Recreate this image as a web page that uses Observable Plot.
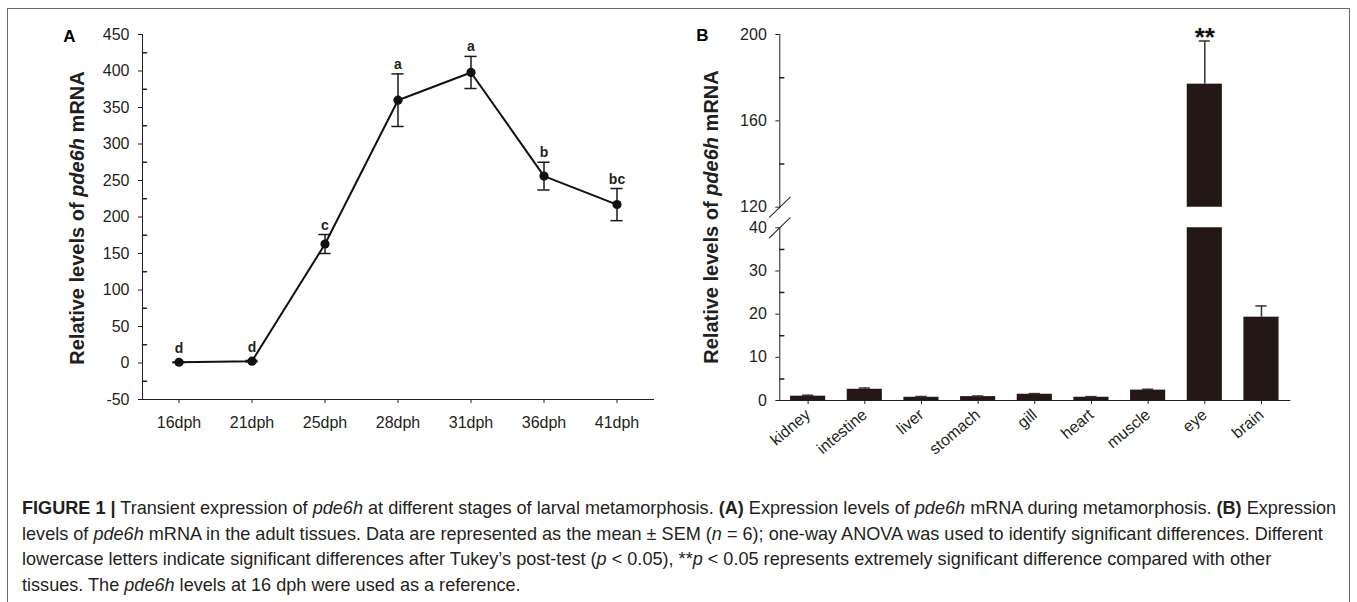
<!DOCTYPE html>
<html><head><meta charset="utf-8">
<script src="https://cdn.jsdelivr.net/npm/d3@7"></script>
<script src="https://cdn.jsdelivr.net/npm/@observablehq/plot@0.6"></script>
<style>
html,body{margin:0;padding:0;background:#fff;}
body{width:1357px;height:602px;overflow:hidden;position:relative;font-family:"Liberation Sans",Arial,sans-serif;color:#231f20;}
#frame{position:absolute;left:7px;top:8px;width:1343px;height:620px;border:1px solid #6b6b6b;box-sizing:border-box;}
.panel{position:absolute;top:0;}
.panel svg{overflow:visible;}
#caption{position:absolute;left:22px;top:496px;font-size:18.1px;line-height:25.5px;white-space:nowrap;color:#231f20;}
</style></head><body>
<div id="frame"></div>
<div id="pa" class="panel" style="left:0px"></div>
<div id="pbHigh" class="panel" style="left:680px"></div>
<div id="pbLow" class="panel" style="left:680px"></div>
<div id="caption"><b>FIGURE 1 |</b> Transient expression of <i>pde6h</i> at different stages of larval metamorphosis. <b>(A)</b> Expression levels of <i>pde6h</i> mRNA during metamorphosis. <b>(B)</b> Expression<br>levels of <i>pde6h</i> mRNA in the adult tissues. Data are represented as the mean ± SEM (<i>n</i> = 6); one-way ANOVA was used to identify significant differences. Different<br>lowercase letters indicate significant differences after Tukey’s post-test (<i>p</i> &lt; 0.05), **<i>p</i> &lt; 0.05 represents extremely significant difference compared with other<br>tissues. The <i>pde6h</i> levels at 16 dph were used as a reference.</div>
<script>
// ---- Panel A data ----
const stages = ["16dph", "21dph", "25dph", "28dph", "31dph", "36dph", "41dph"];
const stageMean = [1, 2.5, 163, 360, 398, 256, 217];
const stageSem = [0.5, 1, 13, 36, 22, 19, 22];
const stageLetters = ["d", "d", "c", "a", "a", "b", "bc"];
const yTicksA = [-50, 0, 50, 100, 150, 200, 250, 300, 350, 400, 450];
const yMinorA = [-25, 25, 75, 125, 175, 225, 275, 325, 375, 425];

// ---- Panel B data ----
const tissues = ["kidney", "intestine", "liver", "stomach", "gill", "heart", "muscle", "eye", "brain"];
const tissueMean = [1.0, 2.6, 0.75, 0.9, 1.45, 0.75, 2.4, 177, 19.3];
const tissueSem = [0.2, 0.3, 0.15, 0.15, 0.15, 0.15, 0.2, 20, 2.6];
const tissueSig = ["", "", "", "", "", "", "", "**", ""];
const yTicksBLow = [0, 10, 20, 30, 40];
const yMinorBLow = [5, 15, 25, 35];
const yTicksBHigh = [120, 160, 200];
const yMinorBHigh = [140, 180];
const breakLow = 40, breakHigh = 120;

const ink = "#231f20";
const barFill = "#231815";
const font = "'Liberation Sans', Arial, sans-serif";
const dotR = 4.6;

const dataA = stages.map((s, i) => ({stage: s, mean: stageMean[i], sem: stageSem[i], letter: stageLetters[i]}));
const dataB = tissues.map((t, i) => ({tissue: t, mean: tissueMean[i], sem: tissueSem[i], sig: tissueSig[i]}));

const baseStyle = {fontFamily: font, fontSize: "16px", color: ink, background: "transparent", overflow: "visible"};
const fmt = d => String(d);

function addTitle(svg, x, y) {
  const t = d3.select(svg).append("text")
    .attr("transform", `translate(${x},${y}) rotate(-90)`)
    .attr("text-anchor", "middle").attr("font-size", 20).attr("font-weight", "bold")
    .attr("font-family", font).attr("fill", ink);
  t.append("tspan").text("Relative levels of ");
  t.append("tspan").attr("font-style", "italic").text("pde6h");
  t.append("tspan").text(" mRNA");
}
function addLetter(svg, x, y, s) {
  d3.select(svg).append("text").attr("x", x).attr("y", y).attr("font-size", 17)
    .attr("font-weight", "bold").attr("font-family", font).attr("fill", "#000").text(s);
}

// ---- Panel A ----
const yScaleA = 365 / 500; // px per unit, used only to keep letters clear of the dot
const plotA = Plot.plot({
  width: 680, height: 440,
  marginLeft: 142, marginRight: 27, marginTop: 34, marginBottom: 41,
  style: baseStyle,
  x: {type: "band", domain: stages, paddingInner: 0, paddingOuter: 0, round: false, label: null, tickSize: 4, tickPadding: 13, line: true},
  y: {domain: [-50, 450], ticks: yTicksA, tickFormat: fmt, tickSize: 4, tickPadding: 9, label: null, line: true},
  marks: [
    Plot.vector(yMinorA, {y: d => d, frameAnchor: "left", rotate: 90, length: 4, anchor: "start", shape: "arrow", r: 0.01, stroke: ink}),
    Plot.ruleX(dataA, {x: "stage", y1: d => d.mean - d.sem, y2: d => d.mean + d.sem, stroke: "#1a1a1a", strokeWidth: 1.5}),
    Plot.tickY(dataA, {x: "stage", y: d => d.mean + d.sem, insetLeft: 30.4, insetRight: 30.4, stroke: "#1a1a1a", strokeWidth: 1.5}),
    Plot.tickY(dataA, {x: "stage", y: d => d.mean - d.sem, insetLeft: 30.4, insetRight: 30.4, stroke: "#1a1a1a", strokeWidth: 1.5}),
    Plot.line(dataA, {x: "stage", y: "mean", stroke: "#111", strokeWidth: 2}),
    Plot.dot(dataA, {x: "stage", y: "mean", r: dotR, fill: "#111", stroke: "none"}),
    Plot.text(dataA, {x: "stage", y: d => Math.max(d.mean + d.sem, d.mean + dotR / yScaleA), text: "letter", dy: -5, lineAnchor: "bottom", fontWeight: "bold", fontSize: 14, fill: ink})
  ]
});
document.getElementById("pa").appendChild(plotA);
addTitle(plotA, 83.5, 218);
addLetter(plotA, 69.5, 41.7, "A");

// ---- Panel B (upper segment, above the axis break) ----
const xB = {type: "band", domain: tissues, paddingInner: 0.38, paddingOuter: 0.19, round: false};
const capInset = 12;
const plotBHigh = Plot.plot({
  width: 677, height: 230,
  marginLeft: 99.3, marginRight: 67.7, marginTop: 34, marginBottom: 23.3,
  style: baseStyle,
  x: {...xB, axis: null},
  y: {domain: [breakHigh, 200], ticks: yTicksBHigh, tickFormat: fmt, tickSize: 4, tickPadding: 9, label: null, line: true},
  marks: [
    Plot.vector(yMinorBHigh, {y: d => d, frameAnchor: "left", rotate: 90, length: 4, anchor: "start", shape: "arrow", r: 0.01, stroke: ink}),
    Plot.barY(dataB, {x: "tissue", y: "mean", fill: barFill, clip: true}),
    Plot.ruleX(dataB, {x: "tissue", y1: "mean", y2: d => d.mean + d.sem, stroke: "#333", strokeWidth: 1.5, clip: true}),
    Plot.tickY(dataB, {x: "tissue", y: d => d.mean + d.sem, insetLeft: capInset, insetRight: capInset, stroke: "#333", strokeWidth: 1.5, clip: true}),
    Plot.text(dataB, {x: "tissue", y: d => d.mean + d.sem, text: "sig", dy: 5, lineAnchor: "bottom", fontWeight: "bold", fontSize: 26, fill: "#111"}),
    Plot.vector([breakHigh], {frameAnchor: "bottom-left", length: 29, rotate: 46, anchor: "middle", shape: "arrow", r: 0.01, stroke: ink, strokeWidth: 1})
  ]
});
document.getElementById("pbHigh").appendChild(plotBHigh);

// ---- Panel B (lower segment, below the axis break) ----
const plotBLow = Plot.plot({
  width: 677, height: 440,
  marginLeft: 99.3, marginRight: 67.7, marginTop: 227.3, marginBottom: 40,
  style: baseStyle,
  x: {...xB, label: null, tickSize: 4, tickPadding: 8, tickRotate: -40, line: true},
  y: {domain: [0, breakLow], ticks: yTicksBLow, tickFormat: fmt, tickSize: 4, tickPadding: 9, label: null, line: true},
  marks: [
    Plot.vector(yMinorBLow, {y: d => d, frameAnchor: "left", rotate: 90, length: 4, anchor: "start", shape: "arrow", r: 0.01, stroke: ink}),
    Plot.barY(dataB, {x: "tissue", y: "mean", fill: barFill, clip: true}),
    Plot.ruleX(dataB, {x: "tissue", y1: "mean", y2: d => d.mean + d.sem, stroke: "#333", strokeWidth: 1.5, clip: true}),
    Plot.tickY(dataB, {x: "tissue", y: d => d.mean + d.sem, insetLeft: capInset, insetRight: capInset, stroke: "#333", strokeWidth: 1.5, clip: true}),
    Plot.vector([breakLow], {frameAnchor: "top-left", length: 29, rotate: 46, anchor: "middle", shape: "arrow", r: 0.01, stroke: ink, strokeWidth: 1})
  ]
});
document.getElementById("pbLow").appendChild(plotBLow);
addTitle(plotBLow, 38, 217);
addLetter(plotBLow, 22.5, 40.7, "B");
</script>
</body></html>
